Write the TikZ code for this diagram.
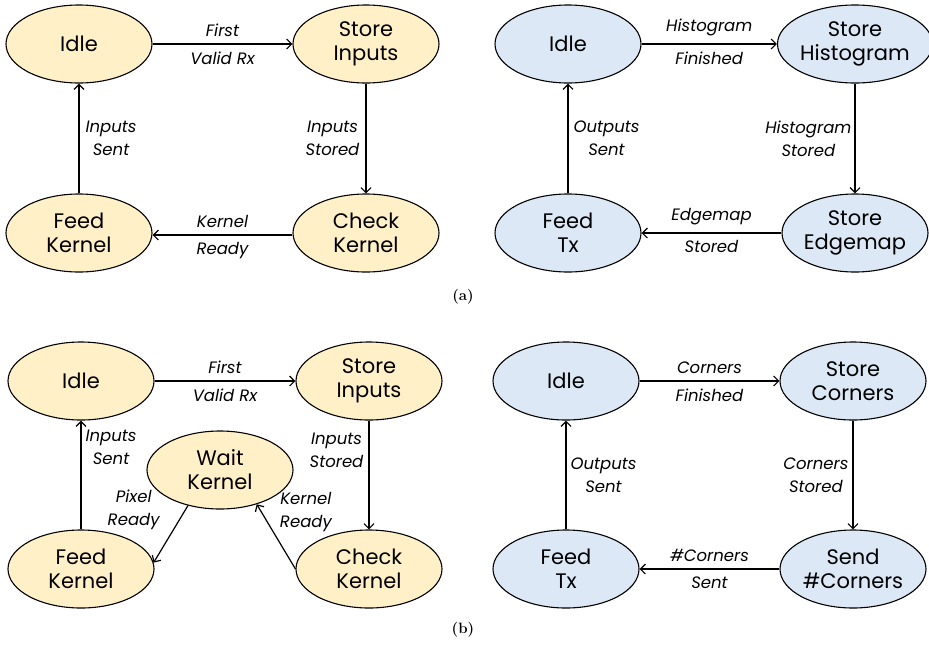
\documentclass[tikz,border=0pt]{standalone}
\usepackage{fontspec}
\newfontfamily\nodefont{Poppins}
\usetikzlibrary{shapes.geometric,arrows.meta}
\definecolor{yelfill}{HTML}{FFF0C8}
\definecolor{blufill}{HTML}{DCE8F5}
\tikzset{
  st/.style={ellipse, draw, line width=1.1pt, minimum width=146pt, minimum height=78pt, inner sep=0pt, align=center, font=\nodefont\fontsize{21}{24}\selectfont},
  yel/.style={st, fill=yelfill},
  blu/.style={st, fill=blufill},
  lab/.style={font=\nodefont\itshape\fontsize{16.5}{23}\selectfont, align=center, inner sep=2pt},
  arr/.style={line width=1.2pt, -{Straight Barb[length=5pt,width=10pt]}},
  captext/.style={font=\fontsize{15}{17}\selectfont\bfseries}
}
\begin{document}
\begin{tikzpicture}[x=1pt,y=-1pt]
\useasboundingbox (0,0) rectangle (929,646);
% ---- (a) left
\node[yel] (ai) at (79,44) {Idle};
\node[yel] (as) at (366,44) {Store\\Inputs};
\node[yel] (af) at (79,233) {Feed\\Kernel};
\node[yel] (ac) at (366,233) {Check\\Kernel};
\draw[arr] (ai) -- node[lab,above=5pt]{First} node[lab,below=5pt]{Valid Rx} (as);
\draw[arr] (as) -- node[lab,left=4pt]{Inputs\\Stored} (ac);
\draw[arr] (ac.west) ++(0,2) coordinate (acw) (acw) -- node[lab,above=5pt]{Kernel} node[lab,below=5pt]{Ready} (af.east |- acw);
\draw[arr] (af) -- node[lab,right=4pt]{Inputs\\Sent} (ai);
% ---- (a) right
\node[blu] (bi) at (568,44) {Idle};
\node[blu] (bs) at (855,44) {Store\\Histogram};
\node[blu] (bf) at (568,233) {Feed\\Tx};
\node[blu] (be) at (855,233) {Store\\Edgemap};
\draw[arr] (bi) -- node[lab,above=5pt]{Histogram} node[lab,below=5pt]{Finished} (bs);
\draw[arr] (bs) -- node[lab,left=1pt]{Histogram\\Stored} (be);
\draw[arr] (be) -- node[lab,above=5pt]{Edgemap} node[lab,below=5pt]{Stored} (bf);
\draw[arr] (bf) -- node[lab,right=3pt]{Outputs\\Sent} (bi);
\node[captext] (capa) at (463,297) {(a)};
% ---- (b) left
\node[yel] (ci) at (81,381) {Idle};
\node[yel] (cs) at (369,381) {Store\\Inputs};
\node[yel] (cf) at (81,569) {Feed\\Kernel};
\node[yel] (cc) at (369,569) {Check\\Kernel};
\node[yel] (cw) at (220,470) {Wait\\Kernel};
\draw[arr] (ci) -- node[lab,above=5pt]{First} node[lab,below=5pt]{Valid Rx} (cs);
\draw[arr] (cs) -- node[lab,left=3pt,pos=0.27]{Inputs\\Stored} (cc);
\draw[arr] (cf) -- node[lab,right=2pt,pos=0.75]{Inputs\\Sent} (ci);
\draw[arr] (cw.228) -- node[lab,left=23pt,pos=0.08]{Pixel\\Ready} (cf.5);
\draw[arr] (cc.west) -- node[lab,right=16pt,pos=0.88]{Kernel\\Ready} (cw.-43);
% ---- (b) right
\node[blu] (di) at (566,381) {Idle};
\node[blu] (ds) at (853,381) {Store\\Corners};
\node[blu] (df) at (566,569) {Feed\\Tx};
\node[blu] (dn) at (853,569) {Send\\\#Corners};
\draw[arr] (di) -- node[lab,above=5pt]{Corners} node[lab,below=5pt]{Finished} (ds);
\draw[arr] (ds) -- node[lab,left=2pt]{Corners\\Stored} (dn);
\draw[arr] (dn) -- node[lab,above=5pt]{\#Corners} node[lab,below=5pt]{Sent} (df);
\draw[arr] (df) -- node[lab,right=2pt]{Outputs\\Sent} (di);
\node[captext] (capb) at (463,630) {(b)};
\end{tikzpicture}
\end{document}
